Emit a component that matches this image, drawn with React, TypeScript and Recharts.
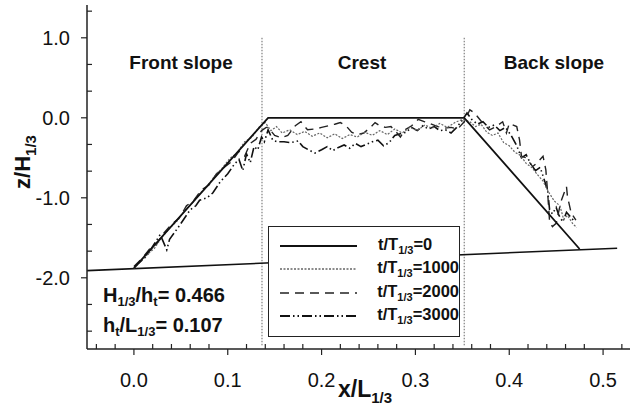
import { LineChart, Line, XAxis, YAxis, ReferenceLine, Legend } from "recharts";

const FONT = '"Liberation Sans", Arial, Helvetica, sans-serif';

// sloping bed under the structure
const bed = [
  { x: -0.05, z: -1.91 },
  { x: 0.515, z: -1.63 },
];

// initial profile, t/T1/3 = 0
const profile0 = [
  { x: 0.0, z: -1.88 },
  { x: 0.143, z: 0.0 },
  { x: 0.352, z: 0.0 },
  { x: 0.475, z: -1.64 },
];

// t/T1/3 = 1000
const profile1000 = [
  { x: 0.0, z: -1.88 }, { x: 0.008, z: -1.79 }, { x: 0.015, z: -1.7 }, { x: 0.022, z: -1.63 },
  { x: 0.03, z: -1.49 }, { x: 0.038, z: -1.38 }, { x: 0.046, z: -1.29 }, { x: 0.054, z: -1.16 },
  { x: 0.062, z: -1.07 }, { x: 0.07, z: -0.95 }, { x: 0.078, z: -0.86 }, { x: 0.086, z: -0.73 },
  { x: 0.094, z: -0.63 }, { x: 0.102, z: -0.51 }, { x: 0.11, z: -0.44 }, { x: 0.118, z: -0.3 },
  { x: 0.126, z: -0.24 }, { x: 0.133, z: -0.12 }, { x: 0.14, z: -0.06 },
  { x: 0.146, z: -0.16 }, { x: 0.152, z: -0.11 }, { x: 0.158, z: -0.19 }, { x: 0.166, z: -0.15 },
  { x: 0.174, z: -0.21 }, { x: 0.182, z: -0.17 }, { x: 0.19, z: -0.23 }, { x: 0.198, z: -0.19 },
  { x: 0.206, z: -0.25 }, { x: 0.214, z: -0.2 }, { x: 0.222, z: -0.26 }, { x: 0.23, z: -0.21 },
  { x: 0.238, z: -0.24 }, { x: 0.246, z: -0.18 }, { x: 0.254, z: -0.22 }, { x: 0.262, z: -0.16 },
  { x: 0.27, z: -0.21 }, { x: 0.278, z: -0.14 }, { x: 0.286, z: -0.19 }, { x: 0.294, z: -0.12 },
  { x: 0.302, z: -0.16 }, { x: 0.31, z: -0.09 }, { x: 0.318, z: -0.13 }, { x: 0.326, z: -0.07 },
  { x: 0.334, z: -0.12 }, { x: 0.342, z: -0.06 }, { x: 0.35, z: -0.02 },
  { x: 0.358, z: -0.05 }, { x: 0.364, z: -0.11 }, { x: 0.37, z: -0.08 }, { x: 0.376, z: -0.18 },
  { x: 0.382, z: -0.22 }, { x: 0.388, z: -0.19 }, { x: 0.394, z: -0.31 }, { x: 0.4, z: -0.35 },
  { x: 0.406, z: -0.43 }, { x: 0.412, z: -0.47 }, { x: 0.418, z: -0.57 }, { x: 0.424, z: -0.62 },
  { x: 0.43, z: -0.71 }, { x: 0.436, z: -0.79 }, { x: 0.442, z: -0.93 }, { x: 0.448, z: -1.04 },
  { x: 0.454, z: -1.1 }, { x: 0.458, z: -1.27 }, { x: 0.462, z: -1.22 }, { x: 0.468, z: -1.33 },
  { x: 0.472, z: -1.37 },
];

// t/T1/3 = 2000
const profile2000 = [
  { x: 0.0, z: -1.86 }, { x: 0.01, z: -1.74 }, { x: 0.018, z: -1.62 }, { x: 0.024, z: -1.58 },
  { x: 0.032, z: -1.44 }, { x: 0.04, z: -1.33 }, { x: 0.048, z: -1.26 }, { x: 0.056, z: -1.1 },
  { x: 0.064, z: -1.03 }, { x: 0.072, z: -0.9 }, { x: 0.08, z: -0.84 }, { x: 0.088, z: -0.7 },
  { x: 0.096, z: -0.62 }, { x: 0.104, z: -0.55 }, { x: 0.112, z: -0.42 }, { x: 0.118, z: -0.48 },
  { x: 0.124, z: -0.32 }, { x: 0.13, z: -0.27 }, { x: 0.136, z: -0.16 }, { x: 0.141, z: -0.12 },
  { x: 0.143, z: -0.12 }, { x: 0.15, z: -0.22 }, { x: 0.157, z: -0.25 }, { x: 0.164, z: -0.22 },
  { x: 0.172, z: -0.1 }, { x: 0.178, z: -0.05 }, { x: 0.185, z: -0.15 }, { x: 0.193, z: -0.14 },
  { x: 0.2, z: -0.12 }, { x: 0.207, z: -0.1 }, { x: 0.214, z: -0.08 }, { x: 0.22, z: -0.06 },
  { x: 0.226, z: -0.1 }, { x: 0.232, z: -0.18 }, { x: 0.238, z: -0.21 }, { x: 0.245, z: -0.19 },
  { x: 0.252, z: -0.12 }, { x: 0.257, z: -0.06 }, { x: 0.262, z: -0.1 }, { x: 0.268, z: -0.12 },
  { x: 0.274, z: -0.11 }, { x: 0.279, z: -0.17 }, { x: 0.284, z: -0.24 }, { x: 0.289, z: -0.15 },
  { x: 0.296, z: -0.1 }, { x: 0.303, z: -0.02 }, { x: 0.31, z: -0.05 }, { x: 0.317, z: -0.08 },
  { x: 0.324, z: -0.11 }, { x: 0.331, z: -0.13 }, { x: 0.338, z: -0.12 }, { x: 0.345, z: -0.14 },
  { x: 0.352, z: -0.05 },
  { x: 0.358, z: 0.1 }, { x: 0.363, z: 0.06 }, { x: 0.372, z: -0.07 }, { x: 0.379, z: -0.15 },
  { x: 0.386, z: -0.11 }, { x: 0.393, z: -0.05 }, { x: 0.397, z: -0.19 }, { x: 0.4, z: -0.07 },
  { x: 0.408, z: -0.11 }, { x: 0.411, z: -0.28 }, { x: 0.413, z: -0.48 }, { x: 0.418, z: -0.5 },
  { x: 0.425, z: -0.61 }, { x: 0.429, z: -0.57 }, { x: 0.436, z: -0.48 }, { x: 0.439, z: -0.65 },
  { x: 0.441, z: -0.95 }, { x: 0.443, z: -1.3 }, { x: 0.446, z: -1.36 }, { x: 0.45, z: -1.32 },
  { x: 0.455, z: -1.05 }, { x: 0.461, z: -0.86 }, { x: 0.462, z: -0.98 }, { x: 0.466, z: -1.19 },
  { x: 0.471, z: -1.28 },
];

// t/T1/3 = 3000
const profile3000 = [
  { x: 0.001, z: -1.86 }, { x: 0.0135, z: -1.73 }, { x: 0.022, z: -1.57 }, { x: 0.028, z: -1.46 },
  { x: 0.035, z: -1.65 }, { x: 0.038, z: -1.52 }, { x: 0.049, z: -1.34 }, { x: 0.06, z: -1.15 },
  { x: 0.066, z: -1.1 }, { x: 0.07, z: -1.03 }, { x: 0.078, z: -1.0 }, { x: 0.084, z: -0.94 },
  { x: 0.092, z: -0.8 }, { x: 0.1, z: -0.7 }, { x: 0.107, z: -0.58 }, { x: 0.112, z: -0.52 },
  { x: 0.116, z: -0.66 }, { x: 0.12, z: -0.45 }, { x: 0.124, z: -0.56 }, { x: 0.128, z: -0.36 },
  { x: 0.132, z: -0.4 }, { x: 0.136, z: -0.24 }, { x: 0.139, z: -0.3 },
  { x: 0.143, z: -0.15 }, { x: 0.148, z: -0.28 }, { x: 0.153, z: -0.3 }, { x: 0.16, z: -0.3 },
  { x: 0.167, z: -0.31 }, { x: 0.175, z: -0.29 }, { x: 0.18, z: -0.36 }, { x: 0.186, z: -0.4 },
  { x: 0.193, z: -0.44 }, { x: 0.2, z: -0.4 }, { x: 0.206, z: -0.36 }, { x: 0.212, z: -0.41 },
  { x: 0.218, z: -0.37 }, { x: 0.224, z: -0.34 }, { x: 0.23, z: -0.38 }, { x: 0.236, z: -0.32 },
  { x: 0.242, z: -0.36 }, { x: 0.248, z: -0.33 }, { x: 0.254, z: -0.3 }, { x: 0.26, z: -0.28 },
  { x: 0.266, z: -0.35 }, { x: 0.272, z: -0.31 }, { x: 0.278, z: -0.22 }, { x: 0.284, z: -0.2 },
  { x: 0.29, z: -0.18 }, { x: 0.296, z: -0.12 }, { x: 0.302, z: -0.16 }, { x: 0.308, z: -0.1 },
  { x: 0.314, z: -0.14 }, { x: 0.32, z: -0.11 }, { x: 0.326, z: -0.16 }, { x: 0.332, z: -0.15 },
  { x: 0.338, z: -0.19 }, { x: 0.344, z: -0.12 }, { x: 0.35, z: -0.03 },
  { x: 0.355, z: 0.06 }, { x: 0.36, z: -0.02 }, { x: 0.366, z: -0.08 }, { x: 0.372, z: -0.05 },
  { x: 0.378, z: -0.12 }, { x: 0.384, z: -0.09 }, { x: 0.39, z: -0.16 }, { x: 0.396, z: -0.12 },
  { x: 0.402, z: -0.22 }, { x: 0.408, z: -0.35 }, { x: 0.413, z: -0.5 }, { x: 0.418, z: -0.46 },
  { x: 0.423, z: -0.58 }, { x: 0.428, z: -0.66 }, { x: 0.433, z: -0.62 }, { x: 0.438, z: -0.8 },
  { x: 0.441, z: -0.92 }, { x: 0.443, z: -1.15 }, { x: 0.446, z: -1.2 }, { x: 0.45, z: -1.12 },
  { x: 0.453, z: -1.22 }, { x: 0.457, z: -1.3 }, { x: 0.461, z: -1.18 }, { x: 0.466, z: -1.25 },
  { x: 0.47, z: -1.3 },
];

const xTicks = [
  -0.04, -0.02, 0, 0.02, 0.04, 0.06, 0.08, 0.1, 0.12, 0.14, 0.16, 0.18, 0.2, 0.22, 0.24,
  0.26, 0.28, 0.3, 0.32, 0.34, 0.36, 0.38, 0.4, 0.42, 0.44, 0.46, 0.48, 0.5, 0.52, 0.54,
];
const yTicks = [
  1.333, 1, 0.667, 0.333, 0, -0.333, -0.667, -1, -1.333, -1.667, -2, -2.333, -2.667,
];

// section boundaries (end of front slope, end of crest)
const dividers = [0.1365, 0.352];

const zones = ["Front slope", "Crest", "Back slope"];
const zoneLeft = [181, 362, 554];

const series = [
  { t: "0", data: profile0, stroke: "#111", width: 1.8, dash: undefined as string | undefined },
  { t: "1000", data: profile1000, stroke: "#666", width: 1.2, dash: "2 1.5" },
  { t: "2000", data: profile2000, stroke: "#222", width: 1.4, dash: "9 6" },
  { t: "3000", data: profile3000, stroke: "#111", width: 1.6, dash: "10 3 1.5 3 1.5 3" },
];

const isMajor = (v: number, step: number) =>
  Math.abs(v / step - Math.round(v / step)) < 1e-6;

function XTick(props: any) {
  const { x, y, payload } = props;
  const v = payload.value as number;
  const major = isMajor(v, 0.1);
  return (
    <g>
      <line x1={x} x2={x} y1={y} y2={major ? y + 6 : y - 5} stroke="#222" strokeWidth={1.2} />
      {major && (
        <text x={x} y={y + 38} textAnchor="middle" fontSize={20} fontFamily={FONT} fill="#111">
          {v.toFixed(1)}
        </text>
      )}
    </g>
  );
}

function YTick(props: any) {
  const { x, y, payload } = props;
  const v = payload.value as number;
  const major = isMajor(v, 1);
  return (
    <g>
      <line x1={x} x2={major ? x - 6 : x + 5} y1={y} y2={y} stroke="#222" strokeWidth={1.2} />
      {major && (
        <text x={x - 17} y={y + 7} textAnchor="end" fontSize={20} fontFamily={FONT} fill="#111">
          {v.toFixed(1)}
        </text>
      )}
    </g>
  );
}

function LegendBox() {
  return (
    <div
      style={{
        width: 192,
        height: 111,
        boxSizing: "border-box",
        border: "1.5px solid #222",
        background: "#fff",
        paddingTop: 7,
        fontFamily: FONT,
      }}
    >
      {series.map((s) => (
        <div key={s.t} style={{ height: 23.5, display: "flex", alignItems: "center" }}>
          <svg width={98} height={6} style={{ marginLeft: 11 }}>
            <line x1={0} x2={77} y1={3} y2={3} stroke={s.stroke} strokeWidth={s.width + 0.3} strokeDasharray={s.dash} />
          </svg>
          <span style={{ fontSize: 16.5, fontWeight: "bold", color: "#111", lineHeight: 1 }}>
            t/T<sub style={{ fontSize: 11, verticalAlign: -4 }}>1/3</sub>={s.t}
          </span>
        </div>
      ))}
    </div>
  );
}

const boldText = {
  position: "absolute" as const,
  fontFamily: FONT,
  fontWeight: "bold" as const,
  fontSize: 19,
  color: "#111",
  lineHeight: 1,
  whiteSpace: "nowrap" as const,
};

const subStyle = { fontSize: 13, verticalAlign: -4 };

export default function App() {
  return (
    <div style={{ position: "absolute", left: 0, top: 0, width: 630, height: 410, overflow: "hidden", background: "#fff" }}>
      <LineChart width={660} height={410} margin={{ top: 5, right: 10, bottom: 0, left: 0 }}>
        <XAxis
          xAxisId="b"
          type="number"
          dataKey="x"
          domain={[-0.05, 0.55]}
          allowDataOverflow
          ticks={xTicks}
          interval={0}
          tick={<XTick />}
          tickLine={false}
          tickSize={0}
          tickMargin={0}
          height={61}
          axisLine={{ stroke: "#222", strokeWidth: 1.5 }}
          label={{
            content: () => (
              <text x={365} y={397} textAnchor="middle" fontFamily={FONT} fontWeight="bold" fontSize={23} fill="#111">
                x/L<tspan fontSize={15} dy={6}>1/3</tspan>
              </text>
            ),
          }}
        />
        <XAxis
          xAxisId="t"
          orientation="top"
          type="number"
          domain={[-0.05, 0.55]}
          allowDataOverflow
          tick={false}
          tickLine={false}
          height={0}
          axisLine={{ stroke: "#222", strokeWidth: 1.5 }}
        />
        <YAxis
          type="number"
          domain={[-2.89, 1.41]}
          allowDataOverflow
          ticks={yTicks}
          interval={0}
          tick={<YTick />}
          tickLine={false}
          tickSize={0}
          tickMargin={0}
          width={87}
          axisLine={{ stroke: "#222", strokeWidth: 1.5 }}
          label={{
            content: () => (
              <text
                transform="translate(30,162) rotate(-90)"
                textAnchor="middle"
                fontFamily={FONT}
                fontWeight="bold"
                fontSize={22}
                fill="#111"
              >
                z/H<tspan fontSize={15} dy={6}>1/3</tspan>
              </text>
            ),
          }}
        />
        {dividers.map((d) => (
          <ReferenceLine
            key={d}
            xAxisId="b"
            segment={[{ x: d, y: 1.0 }, { x: d, y: -2.85 }]}
            stroke="#666"
            strokeWidth={1}
            strokeDasharray="1.5 1.5"
          />
        ))}
        <Line
          xAxisId="b"
          data={bed}
          dataKey="z"
          type="linear"
          dot={false}
          stroke="#111"
          strokeWidth={1.6}
          legendType="none"
          isAnimationActive={false}
        />
        {series
          .slice()
          .reverse()
          .map((s) => (
            <Line
              key={s.t}
              xAxisId="b"
              data={s.data}
              dataKey="z"
              name={s.t}
              type="linear"
              dot={false}
              stroke={s.stroke}
              strokeWidth={s.width}
              strokeDasharray={s.dash}
              isAnimationActive={false}
            />
          ))}
        <Legend
          layout="vertical"
          align="center"
          verticalAlign="middle"
          content={() => <LegendBox />}
          wrapperStyle={{ left: 268, top: 226, width: 192, height: 111 }}
        />
      </LineChart>

      {zones.map((z, i) => (
        <div key={z} style={{ ...boldText, left: zoneLeft[i], top: 53, transform: "translateX(-50%)" }}>
          {z}
        </div>
      ))}
      <div style={{ ...boldText, fontSize: 20, left: 103, top: 285 }}>
        H<sub style={subStyle}>1/3</sub>/h<sub style={subStyle}>t</sub>= 0.466
      </div>
      <div style={{ ...boldText, fontSize: 20, left: 103, top: 315 }}>
        h<sub style={subStyle}>t</sub>/L<sub style={subStyle}>1/3</sub>= 0.107
      </div>
    </div>
  );
}
